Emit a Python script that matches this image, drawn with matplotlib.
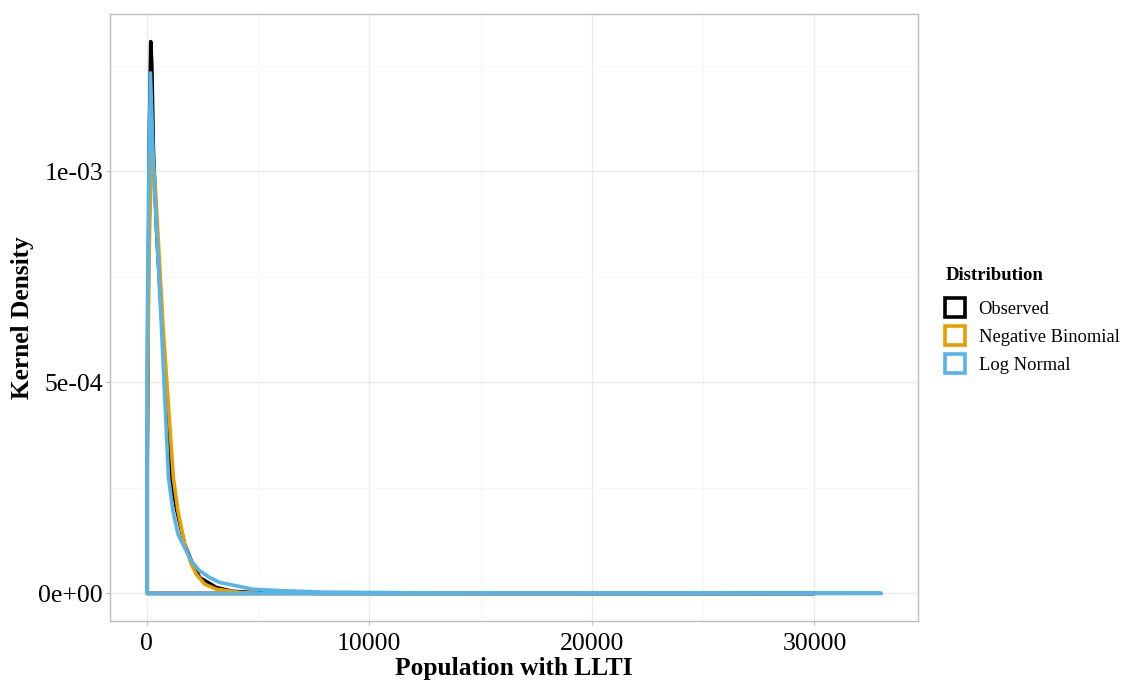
import matplotlib
matplotlib.use("Agg")
import matplotlib.pyplot as plt
from matplotlib.patches import Patch
from matplotlib.ticker import FixedLocator, FixedFormatter

# ---- data ----
obs_x = [25, 60, 120, 180, 230, 300, 450, 700, 1060, 1359, 1704, 2004, 2377, 3125, 3856, 5067, 8000, 15000, 25000, 30000]
obs_y = [0.30e-3, 0.62e-3, 1.10e-3, 1.307e-3, 1.25e-3, 1.05e-3, 0.85e-3, 0.627e-3, 0.274e-3, 0.195e-3, 0.116e-3,
         0.077e-3, 0.0377e-3, 0.014e-3, 0.005e-3, 0.001e-3, 0.0002e-3, 0.0001e-3, 0.0, 0.0]

nb_x = [20, 100, 230, 400, 740, 1197, 1404, 1704, 2004, 2229, 2601, 3125, 3856, 4471, 5000]
nb_y = [0.35e-3, 0.80e-3, 1.06e-3, 0.95e-3, 0.627e-3, 0.274e-3, 0.195e-3, 0.116e-3, 0.069e-3, 0.0455e-3,
        0.022e-3, 0.010e-3, 0.0047e-3, 0.0005e-3, 0.0]

ln_x = [10, 90, 166, 327, 664, 978, 1179, 1404, 1628, 2004, 2377, 2825, 3273, 4022, 4753, 6098, 8000,
        12000, 16000, 22000, 28000, 33000]
ln_y = [0.55e-3, 0.981e-3, 1.233e-3, 0.981e-3, 0.627e-3, 0.274e-3, 0.195e-3, 0.140e-3, 0.116e-3, 0.077e-3,
        0.0535e-3, 0.0377e-3, 0.026e-3, 0.018e-3, 0.010e-3, 0.0064e-3, 0.003e-3, 0.0015e-3, 0.001e-3,
        0.0006e-3, 0.0004e-3, 0.0003e-3]

series_names = ["Observed", "Negative Binomial", "Log Normal"]
series_colors = ["#000000", "#E69F00", "#56B4E9"]

x_ticks = [0, 10000, 20000, 30000]
x_ticklabels = ["0", "10000", "20000", "30000"]
y_ticks = [0.0, 5e-4, 1e-3]
y_ticklabels = ["0e+00", "5e-04", "1e-03"]

# ---- figure ----
plt.rcParams['font.family'] = ['Liberation Serif', 'DejaVu Serif']
fig = plt.figure(figsize=(11.26, 6.84), dpi=100)
ax = fig.add_axes([110/1126, 1-621/684, (918-110)/1126, (621-14)/684])

data = [(obs_x, obs_y), (nb_x, nb_y), (ln_x, ln_y)]
for (xs, ys), c in zip(data, series_colors):
    px = [xs[0]] + list(xs) + [xs[-1]]
    py = [0.0] + list(ys) + [0.0]
    ax.fill(px, py, fill=False, edgecolor=c, linewidth=2.6, joinstyle='round', zorder=3)

xmin, xmax = 0, 33000
rng = xmax - xmin
ax.set_xlim(xmin - 0.05*rng, xmax + 0.05*rng)
ymax = 1.307e-3
ax.set_ylim(-0.05*ymax, ymax*1.05)

ax.xaxis.set_major_locator(FixedLocator(x_ticks))
ax.xaxis.set_major_formatter(FixedFormatter(x_ticklabels))
ax.xaxis.set_minor_locator(FixedLocator([5000, 15000, 25000]))
ax.yaxis.set_major_locator(FixedLocator(y_ticks))
ax.yaxis.set_major_formatter(FixedFormatter(y_ticklabels))
ax.yaxis.set_minor_locator(FixedLocator([2.5e-4, 7.5e-4, 1.25e-3]))

ax.grid(True, which='major', color='#EBEBEB', linewidth=1.0, zorder=0)
ax.grid(True, which='minor', color='#F5F5F5', linewidth=0.6, zorder=0)
ax.set_axisbelow(True)
for s in ax.spines.values():
    s.set_color('#BDBDBD')
    s.set_linewidth(1.0)
ax.tick_params(axis='both', which='major', length=3, width=0.8, color='#BDBDBD',
               labelsize=18.5, labelcolor='black', pad=2)
ax.tick_params(axis='x', which='major', pad=6)
ax.tick_params(axis='both', which='minor', length=0)

ax.set_xlabel("Population with LLTI", fontsize=18.3, fontweight='bold', labelpad=1)
ax.set_ylabel("Kernel Density", fontsize=18.3, fontweight='bold', labelpad=3)

handles = [Patch(facecolor='white', edgecolor=c, linewidth=2.6, label=n)
           for n, c in zip(series_names, series_colors)]
leg = fig.legend(handles=handles, title="Distribution", loc='upper left',
                 bbox_to_anchor=(938/1126, 1-260/684), frameon=False,
                 fontsize=13.3, title_fontproperties={'weight': 'bold', 'size': 13.5},
                 handlelength=1.05, handleheight=1.2, handletextpad=0.75,
                 labelspacing=0.45, borderaxespad=0)
leg._legend_box.align = "left"
leg._legend_box.sep = 10

fig.savefig("out.png", dpi=100)
